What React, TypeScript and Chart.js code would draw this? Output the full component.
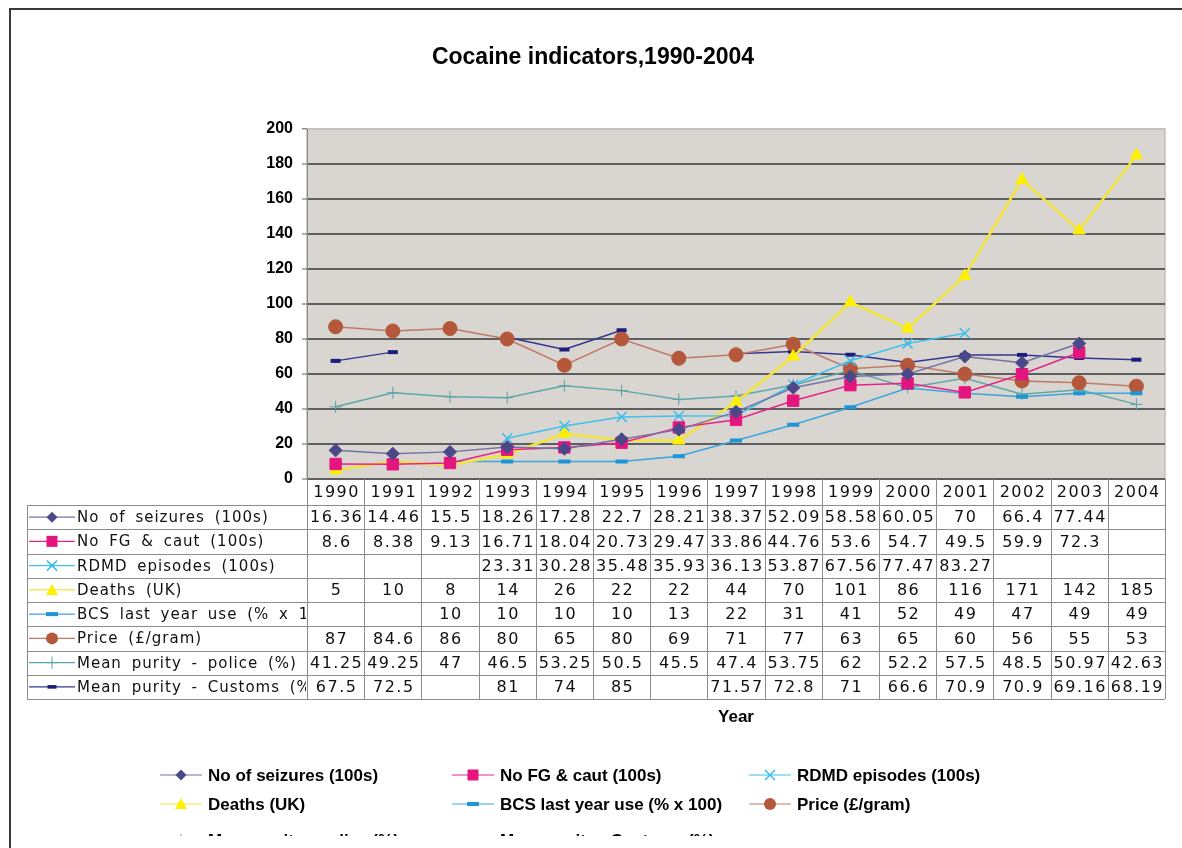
import React, { useEffect, useRef } from "react";
import { Chart, registerables } from "chart.js";

Chart.register(...registerables);

const YEARS = ["1990","1991","1992","1993","1994","1995","1996","1997","1998","1999","2000","2001","2002","2003","2004"];
const Y_TICKS = [0, 20, 40, 60, 80, 100, 120, 140, 160, 180, 200];

const SEIZURES = [16.36, 14.46, 15.5, 18.26, 17.28, 22.7, 28.21, 38.37, 52.09, 58.58, 60.05, 70, 66.4, 77.44, null];
const NO_FG = [8.6, 8.38, 9.13, 16.71, 18.04, 20.73, 29.47, 33.86, 44.76, 53.6, 54.7, 49.5, 59.9, 72.3, null];
const RDMD = [null, null, null, 23.31, 30.28, 35.48, 35.93, 36.13, 53.87, 67.56, 77.47, 83.27, null, null, null];
const DEATHS = [5, 10, 8, 14, 26, 22, 22, 44, 70, 101, 86, 116, 171, 142, 185];
const BCS = [null, null, 10, 10, 10, 10, 13, 22, 31, 41, 52, 49, 47, 49, 49];
const PRICE = [87, 84.6, 86, 80, 65, 80, 69, 71, 77, 63, 65, 60, 56, 55, 53];
const PURITY_POLICE = [41.25, 49.25, 47, 46.5, 53.25, 50.5, 45.5, 47.4, 53.75, 62, 52.2, 57.5, 48.5, 50.97, 42.63];
const PURITY_CUSTOMS = [67.5, 72.5, null, 81, 74, 85, null, 71.57, 72.8, 71, 66.6, 70.9, 70.9, 69.16, 68.19];

const SERIES_NAMES = [
  "No of seizures (100s)",
  "No FG & caut (100s)",
  "RDMD episodes (100s)",
  "Deaths (UK)",
  "BCS last year use (% x 100)",
  "Price (£/gram)",
  "Mean purity - police (%)",
  "Mean purity - Customs (%)",
];
const SERIES_VALUES = [SEIZURES, NO_FG, RDMD, DEATHS, BCS, PRICE, PURITY_POLICE, PURITY_CUSTOMS];

type Sty = {
  line: string; mark: string; ps: string; r: number; bw: number; lw: number; key: string;
};
const STYLES: Sty[] = [
  { line: "#7472a6", mark: "#4a4888", ps: "rectRot", r: 6.5, bw: 1, lw: 1.5, key: "diamond" },
  { line: "#e8228a", mark: "#e5157f", ps: "rect", r: 8, bw: 1, lw: 1.5, key: "square" },
  { line: "#40c0ec", mark: "#38bcee", ps: "crossRot", r: 7, bw: 1.5, lw: 1.5, key: "xcross" },
  { line: "#f2e43c", mark: "#fff000", ps: "triangle", r: 7, bw: 1, lw: 2.5, key: "triangle" },
  { line: "#3aa6dc", mark: "#1f94d6", ps: "line", r: 6, bw: 4, lw: 1.5, key: "bar" },
  { line: "#c07a68", mark: "#b5573a", ps: "circle", r: 7, bw: 1, lw: 1.5, key: "circle" },
  { line: "#5ea8aa", mark: "#5aa2a6", ps: "cross", r: 6, bw: 1, lw: 1.5, key: "plus" },
  { line: "#34358e", mark: "#1b1c7c", ps: "line", r: 5, bw: 4, lw: 1.5, key: "smallbar" },
];

function drawKey(ctx: CanvasRenderingContext2D, s: Sty, x0: number, x1: number, y: number) {
  ctx.save();
  ctx.strokeStyle = s.line;
  ctx.lineWidth = 1.2;
  ctx.beginPath();
  ctx.moveTo(x0, y);
  ctx.lineTo(x1, y);
  ctx.stroke();
  const x = (x0 + x1) / 2;
  ctx.fillStyle = s.mark;
  ctx.strokeStyle = s.mark;
  ctx.beginPath();
  switch (s.key) {
    case "diamond":
      ctx.moveTo(x, y - 5.5); ctx.lineTo(x + 5.5, y); ctx.lineTo(x, y + 5.5); ctx.lineTo(x - 5.5, y); ctx.closePath(); ctx.fill();
      break;
    case "square":
      ctx.rect(x - 5.5, y - 5.5, 11, 11); ctx.fill();
      break;
    case "xcross":
      ctx.lineWidth = 1.5;
      ctx.moveTo(x - 5, y - 5); ctx.lineTo(x + 5, y + 5); ctx.moveTo(x + 5, y - 5); ctx.lineTo(x - 5, y + 5); ctx.stroke();
      break;
    case "triangle":
      ctx.moveTo(x, y - 6); ctx.lineTo(x + 6, y + 5); ctx.lineTo(x - 6, y + 5); ctx.closePath(); ctx.fill();
      break;
    case "bar":
      ctx.rect(x - 6, y - 2, 12, 4); ctx.fill();
      break;
    case "smallbar":
      ctx.rect(x - 4.5, y - 1.8, 9, 3.6); ctx.fill();
      break;
    case "circle":
      ctx.arc(x, y, 6, 0, Math.PI * 2); ctx.fill();
      break;
    case "plus":
      ctx.lineWidth = 1;
      ctx.moveTo(x, y - 6); ctx.lineTo(x, y + 6); ctx.moveTo(x - 6, y); ctx.lineTo(x + 6, y); ctx.stroke();
      break;
  }
  ctx.restore();
}

const decorPlugin = {
  id: "decor",
  beforeDraw(chart: any) {
    const { ctx, chartArea: a } = chart;
    ctx.save();
    ctx.fillStyle = "#d9d5d0";
    ctx.fillRect(a.left, a.top, a.right - a.left, a.bottom - a.top);
    ctx.strokeStyle = "#c4c0bb";
    ctx.lineWidth = 1.5;
    ctx.strokeRect(a.left, a.top, a.right - a.left, a.bottom - a.top);
    ctx.restore();
  },
  afterDraw(chart: any) {
    const { ctx, chartArea: a } = chart;
    const xs = chart.scales.x;
    const n = YEARS.length;
    const bound = (i: number) =>
      i === 0 ? a.left : i === n ? a.right : (xs.getPixelForValue(i - 1) + xs.getPixelForValue(i)) / 2;

    ctx.save();
    // frame
    ctx.strokeStyle = "#3a3a3a";
    ctx.lineWidth = 2;
    ctx.beginPath();
    ctx.moveTo(10, 848);
    ctx.lineTo(10, 9);
    ctx.lineTo(1182, 9);
    ctx.stroke();

    // title
    ctx.fillStyle = "#000";
    ctx.font = 'bold 23px "Liberation Sans", Arial, sans-serif';
    ctx.textAlign = "center";
    ctx.textBaseline = "middle";
    ctx.fillText("Cocaine indicators,1990-2004", 593, 58);

    // data table
    const headTop = a.bottom;
    const headBot = a.bottom + 26;
    const rowH = 24.25;
    const tLeft = 27;
    const tBot = headBot + rowH * SERIES_NAMES.length;
    ctx.strokeStyle = "#8c8c8c";
    ctx.lineWidth = 1;
    ctx.beginPath();
    for (let k = 0; k <= SERIES_NAMES.length; k++) {
      const y = Math.round(headBot + k * rowH) + 0.5;
      ctx.moveTo(tLeft, y);
      ctx.lineTo(a.right, y);
    }
    for (let i = 0; i <= n; i++) {
      const x = Math.round(bound(i)) + 0.5;
      ctx.moveTo(x, headTop);
      ctx.lineTo(x, tBot);
    }
    ctx.moveTo(tLeft + 0.5, headBot);
    ctx.lineTo(tLeft + 0.5, tBot);
    ctx.stroke();

    ctx.fillStyle = "#111";
    ctx.font = '16px "DejaVu Sans", sans-serif';
    (ctx as any).letterSpacing = "1.5px";
    ctx.textAlign = "center";
    ctx.textBaseline = "middle";
    ctx.save();
    ctx.beginPath();
    ctx.rect(a.left, headTop, a.right - a.left, tBot - headTop + 2);
    ctx.clip();
    for (let i = 0; i < n; i++) {
      const cx = (bound(i) + bound(i + 1)) / 2 + 1;
      ctx.fillText(YEARS[i], cx, headTop + 14);
      for (let s = 0; s < SERIES_VALUES.length; s++) {
        const v = SERIES_VALUES[s][i];
        if (v === null || v === undefined) continue;
        ctx.fillText(String(v), cx, headBot + s * rowH + rowH / 2 + 1);
      }
    }
    ctx.restore();

    // row labels
    ctx.save();
    ctx.beginPath();
    ctx.rect(tLeft, headBot, a.left - tLeft - 1, tBot - headBot);
    ctx.clip();
    ctx.font = '15px "DejaVu Sans", sans-serif';
    (ctx as any).letterSpacing = "1px";
    (ctx as any).wordSpacing = "4px";
    ctx.textAlign = "left";
    for (let s = 0; s < SERIES_NAMES.length; s++) {
      const y = headBot + s * rowH + rowH / 2;
      drawKey(ctx, STYLES[s], 29, 75, y);
      ctx.fillStyle = "#111";
      ctx.fillText(SERIES_NAMES[s], 77, y + 1);
    }
    ctx.restore();
    (ctx as any).letterSpacing = "0px";
    (ctx as any).wordSpacing = "0px";

    // axis title
    ctx.fillStyle = "#000";
    ctx.font = 'bold 17px "Liberation Sans", Arial, sans-serif';
    ctx.textAlign = "center";
    ctx.fillText("Year", (a.left + a.right) / 2, 717);

    // legend
    ctx.save();
    ctx.beginPath();
    ctx.rect(0, 740, 1182, 96);
    ctx.clip();
    const colX = [160, 452, 749];
    const rowY = [775, 804, 840];
    ctx.font = 'bold 17px "Liberation Sans", Arial, sans-serif';
    ctx.textAlign = "left";
    for (let s = 0; s < SERIES_NAMES.length; s++) {
      const c = s % 3;
      const r = Math.floor(s / 3);
      drawKey(ctx, STYLES[s], colX[c], colX[c] + 42, rowY[r]);
      ctx.fillStyle = "#000";
      ctx.fillText(SERIES_NAMES[s], colX[c] + 48, rowY[r] + 1);
    }
    ctx.restore();

    ctx.restore();
  },
};

export default function App() {
  const ref = useRef<HTMLCanvasElement | null>(null);
  useEffect(() => {
    if (!ref.current) return;
    const datasets = SERIES_NAMES.map((name, i) => {
      const s = STYLES[i];
      return {
        label: name,
        data: SERIES_VALUES[i],
        borderColor: s.line,
        borderWidth: s.lw,
        backgroundColor: s.mark,
        pointStyle: s.ps,
        pointRadius: s.r,
        pointHoverRadius: s.r,
        pointBackgroundColor: s.mark,
        pointBorderColor: s.mark,
        pointBorderWidth: s.bw,
        spanGaps: false,
        tension: 0,
        fill: false,
      };
    });
    const chart = new Chart(ref.current, {
      type: "line",
      data: { labels: YEARS, datasets: datasets as any },
      options: {
        animation: false,
        responsive: false,
        devicePixelRatio: 1,
        layout: { padding: { left: 257, right: 17, top: 129, bottom: 369 } },
        plugins: { legend: { display: false }, title: { display: false }, tooltip: { enabled: false } },
        scales: {
          x: { display: false, offset: true, grid: { offset: true } },
          y: {
            min: 0,
            max: 200,
            afterFit: (scale: any) => { scale.width = 50; },
            afterBuildTicks: (scale: any) => { scale.ticks = Y_TICKS.map((v) => ({ value: v })); },
            ticks: {
              padding: 9,
              color: "#000",
              font: { family: '"Liberation Sans", Arial, sans-serif', size: 16, weight: "bold" },
            },
            grid: {
              color: (c: any) => (c.tick && c.tick.value === 200 ? "#c4c0bb" : "#5e5e5e"),
              lineWidth: (c: any) => (c.tick && c.tick.value === 200 ? 1.5 : 2),
              tickColor: "#5e5e5e",
              tickLength: 5,
              tickWidth: 1,
            },
            border: { display: true, color: "#8a8a8a", width: 1 },
          },
        },
      } as any,
      plugins: [decorPlugin],
    });
    return () => chart.destroy();
  }, []);
  return (
    <div style={{ position: "absolute", left: 0, top: 0, width: 1182, height: 848, background: "#fff" }}>
      <canvas ref={ref} width={1182} height={848} />
    </div>
  );
}
